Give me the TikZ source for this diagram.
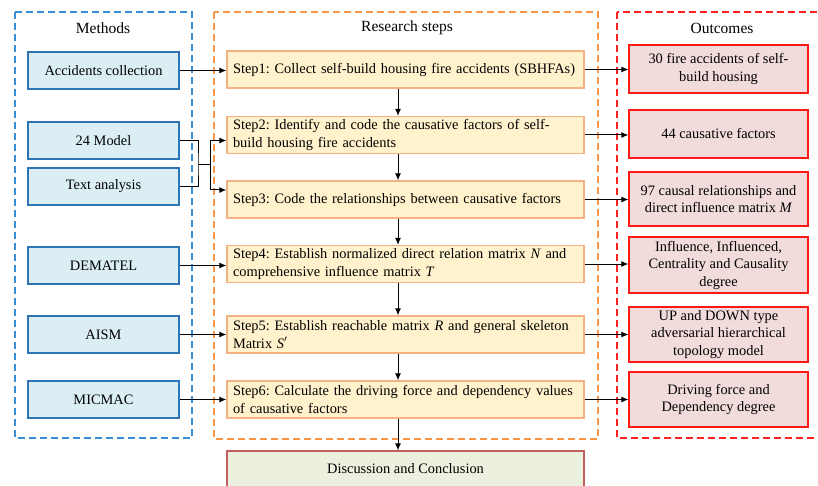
\documentclass[tikz,border=0pt]{standalone}
\usepackage{fontspec}
\setmainfont{Liberation Serif}
\usetikzlibrary{arrows.meta,calc}
\frenchspacing
\definecolor{mfill}{HTML}{DAEEF3}
\definecolor{mdraw}{HTML}{2E75B6}
\definecolor{mframe}{HTML}{3A8FD9}
\definecolor{sfill}{HTML}{FFF2CC}
\definecolor{sdraw}{HTML}{F4B183}
\definecolor{sframe}{HTML}{F79646}
\definecolor{ofill}{HTML}{F2DCDB}
\definecolor{odraw}{HTML}{FF1A1A}
\definecolor{oframe}{HTML}{FF2020}
\definecolor{dfill}{HTML}{EBF1DE}
\definecolor{ddraw}{HTML}{C0605D}
\tikzset{
  txt/.style={font=\fontsize{14.4}{17.5}\selectfont},
  methodbox/.style={txt, draw=mdraw, fill=mfill, line width=1.3pt, minimum width=151pt, minimum height=37pt, inner sep=0pt, align=center},
  stepbox/.style={txt, draw=sdraw, fill=sfill, line width=1.3pt, minimum width=357pt, minimum height=37pt, inner sep=0pt, text width=345pt, align=left},
  outbox/.style={txt, draw=odraw, fill=ofill, line width=1.3pt, minimum width=179pt, inner sep=0pt, align=center},
  frame/.style={line width=1.2pt, dash pattern=on 7pt off 4pt},
  arr/.style={line width=1pt, -{Latex[length=7pt,width=6pt]}},
  ln/.style={line width=1pt},
  ttl/.style={font=\fontsize{15.5}{18}\selectfont}
}
\begin{document}
\begin{tikzpicture}[x=1pt,y=-1pt]
\useasboundingbox (0,0) rectangle (818,486);
\clip (0,0) rectangle (818,486);
% frames
\draw[frame, mframe] (15,12) rectangle (192,438);
\draw[frame, sframe] (214,12) rectangle (598,439);
\draw[frame, oframe] (617,12) rectangle (830,438);
\node[ttl] (tm) at (103,28) {Methods};
\node[ttl] (ts) at (407,28) {Research steps};
\node[ttl] (to) at (722,28) {Outcomes};
% methods
\node[methodbox] (m1) at (103.5,70.5) {Accidents collection};
\node[methodbox] (m2) at (103.5,140.5) {24 Model};
\node[methodbox] (m3) at (103.5,186.5) {Text analysis};
\node[methodbox] (m4) at (103.5,265.5) {DEMATEL};
\node[methodbox] (m5) at (103.5,334.5) {AISM};
\node[methodbox] (m6) at (103.5,399.5) {MICMAC};
% steps
\node[stepbox] (s1) at (405.5,69.5) {Step1: Collect self-build housing fire accidents (SBHFAs)};
\node[stepbox] (s2) at (405.5,135) {Step2: Identify and code the causative factors of self-\\build housing fire accidents};
\node[stepbox] (s3) at (405.5,199.5) {Step3: Code the relationships between causative factors};
\node[stepbox] (s4) at (405.5,264) {Step4: Establish normalized direct relation matrix \textit{N} and\\comprehensive influence matrix \textit{T}};
\node[stepbox] (s5) at (405.5,334.5) {Step5: Establish reachable matrix \textit{R} and general skeleton\\Matrix \textit{S}$'$};
\node[stepbox] (s6) at (405.5,399.5) {Step6: Calculate the driving force and dependency values\\of causative factors};
\node[txt, draw=ddraw, fill=dfill, line width=1.3pt, minimum width=357pt, minimum height=44pt, inner sep=0pt] (d) at (405.5,473) {};
\node[txt] (dt) at (405.5,469) {Discussion and Conclusion};
% outcomes
\node[outbox, minimum height=48pt] (o1) at (718.5,69) {30 fire accidents of self-\\build housing};
\node[outbox, minimum height=48pt] (o2) at (718.5,134) {44 causative factors};
\node[outbox, minimum height=54pt] (o3) at (718.5,199) {97 causal relationships and\\direct influence matrix \textit{M}};
\node[outbox, minimum height=56pt] (o4) at (718.5,265) {Influence, Influenced,\\Centrality and Causality\\degree};
\node[outbox, minimum height=55pt] (o5) at (718.5,334.5) {UP and DOWN type\\adversarial hierarchical\\topology model};
\node[outbox, minimum height=55pt] (o6) at (718.5,399.5) {Driving force and\\Dependency degree};
% method -> step arrows
\draw[arr] (m1.east) -- (m1.east -| s1.west);
\coordinate (jl) at (198,165);
\coordinate (jr) at (210,165);
\draw[ln] (m2.east) -| (jl) |- (m3.east);
\draw[ln] (jl) -- (jr);
\draw[arr] (jr) |- (s2.west |- m2.east);
\draw[arr] (jr) |- (s3.west |- 0,190);
\draw[arr] (m4.east) -- (m4.east -| s4.west);
\draw[arr] (m5.east) -- (m5.east -| s5.west);
\draw[arr] (m6.east) -- (m6.east -| s6.west);
% step -> outcome arrows
\draw[arr] (s1.east) -- (s1.east -| o1.west);
\draw[arr] (s2.east) -- (s2.east -| o2.west);
\draw[arr] (s3.east) -- (s3.east -| o3.west);
\draw[arr] (s4.east) -- (s4.east -| o4.west);
\draw[arr] (s5.east) -- (s5.east -| o5.west);
\draw[arr] (s6.east) -- (s6.east -| o6.west);
% vertical step arrows
\coordinate (c) at (398,0);
\draw[arr] (s1.south -| c) -- (s2.north -| c);
\draw[arr] (s2.south -| c) -- (s3.north -| c);
\draw[arr] (s3.south -| c) -- (s4.north -| c);
\draw[arr] (s4.south -| c) -- (s5.north -| c);
\draw[arr] (s5.south -| c) -- (s6.north -| c);
\draw[arr] (s6.south -| c) -- (d.north -| c);
\end{tikzpicture}
\end{document}
